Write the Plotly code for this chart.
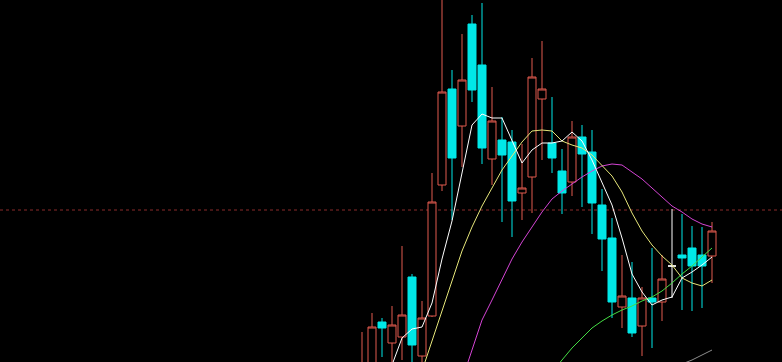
import plotly.graph_objects as go

# ---- data (price units) ----
idx = list(range(36))
opens = [-18, -13, 40, 19, 25, 85, 6, 46, 177, 273, 236, 338, 297, 203, 222, 220, 169, 185,
         263, 219, 191, 180, 225, 210, 157, 124, 55, 64, 36, 64, 60, 96, 107, 114, 107, 106]
highs = [30, 49, 44, 56, 116, 88, 61, 189, 372, 292, 328, 347, 359, 275, 245, 232, 218, 304,
         321, 265, 213, 241, 237, 232, 173, 144, 107, 100, 75, 114, 107, 153, 148, 136, 135, 140]
lows = [-28, -23, 5, -8, 2, -13, -3, 45, 171, 142, 195, 260, 198, 177, 140, 125, 142, 149,
        202, 189, 148, 166, 155, 128, 91, 44, 34, 25, 6, 14, 41, 64, 52, 51, 54, 79]
closes = [-8, 35, 34, 37, 47, 17, 44, 160, 270, 204, 282, 272, 214, 241, 207, 161, 174, 285,
          273, 204, 169, 225, 208, 159, 123, 60, 66, 29, 64, 60, 83, 96, 104, 96, 96, 131]

N = None
ma5 = [N, N, -35, -3, 24, 33, 35, 59, 103, 141, 189, 237, 248, 244, 244, 222, 199, 212,
       219, 219, 221, 230, 221, 202, 179, 157, 124, 88, 70, 57, 62, 65, 84, 90, 97, 105]
ma10 = [N, N, N, N, N, N, -9, 21, 51, 81, 111, 135, 156, 174, 192, 206, 220, 231,
        232, 231, 221, 217, 214, 207, 197, 186, 170, 149, 131, 117, 106, 97, 84, 79, 76, 82]
ma20 = [N, N, N, N, N, N, N, N, N, N, -18, 12, 42, 62, 82, 103, 120, 135,
        150, 163, 171, 178, 185, 191, 196, 198, 197, 190, 183, 174, 165, 156, 150, 143, 138, 135]
ma30 = [N] * 19 + [-10, 2, 14, 24, 34, 41, 47, 52, 56, 61, 65, 71, 79, 88, 96, 105, 114]
ma60 = [N] * 32 + [-2, 2, 7, 12]

ref_level = 152

RED = '#e25a4e'
CYAN = '#00e8e8'

main = [i for i in idx if opens[i] != closes[i]]
doji = [i for i in idx if opens[i] == closes[i]]

fig = go.Figure()
fig.add_trace(go.Candlestick(
    x=[idx[i] for i in main], open=[opens[i] for i in main], high=[highs[i] for i in main],
    low=[lows[i] for i in main], close=[closes[i] for i in main],
    increasing=dict(line=dict(color=RED, width=1), fillcolor='black'),
    decreasing=dict(line=dict(color=CYAN, width=1), fillcolor=CYAN),
    whiskerwidth=0, showlegend=False, hoverinfo='skip'))
fig.add_trace(go.Candlestick(
    x=[idx[i] for i in doji], open=[opens[i] for i in doji], high=[highs[i] for i in doji],
    low=[lows[i] for i in doji], close=[closes[i] for i in doji],
    increasing=dict(line=dict(color='white', width=1), fillcolor='white'),
    decreasing=dict(line=dict(color='white', width=1), fillcolor='white'),
    whiskerwidth=0, showlegend=False, hoverinfo='skip'))

for ys, col in [(ma60, '#8c8c8c'), (ma30, '#44dd44'), (ma20, '#d444d4'),
                (ma10, '#e6e67a'), (ma5, '#ffffff')]:
    fig.add_trace(go.Scatter(x=idx, y=ys, mode='lines', line=dict(color=col, width=1),
                             showlegend=False, hoverinfo='skip'))

fig.add_shape(type='line', xref='paper', x0=0, x1=1, yref='y', y0=ref_level, y1=ref_level,
              line=dict(color='#8a2a2a', width=1, dash='3px,3px'), layer='below')

fig.update_layout(
    width=782, height=362, margin=dict(l=0, r=0, t=0, b=0),
    paper_bgcolor='black', plot_bgcolor='black',
    boxgap=0.2, boxgroupgap=0,
    xaxis=dict(range=[-36.2, 42.0], visible=False, showgrid=False, zeroline=False,
               rangeslider=dict(visible=False)),
    yaxis=dict(range=[0, 362], visible=False, showgrid=False, zeroline=False),
)
fig.write_html("out.html")
